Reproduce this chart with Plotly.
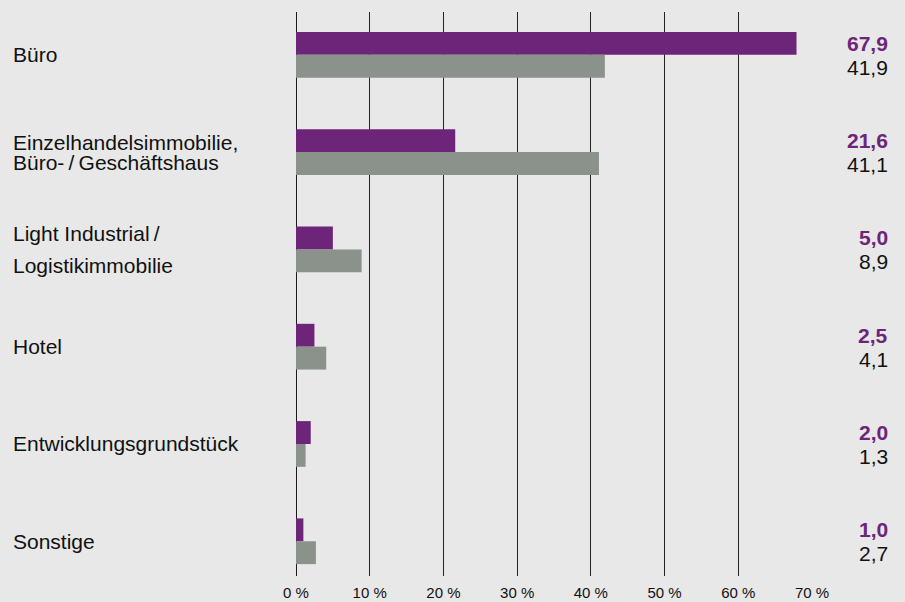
import plotly.graph_objects as go

# ---- data ----
categories = ["Büro", "Einzelhandelsimmobilie", "Light Industrial", "Hotel",
              "Entwicklungsgrundstück", "Sonstige"]
label_lines = [
    ["Büro"],
    ["Einzelhandelsimmobilie,", "Büro-\u2009/\u2009Geschäftshaus"],
    ["Light Industrial\u2009/", "Logistikimmobilie"],
    ["Hotel"],
    ["Entwicklungsgrundstück"],
    ["Sonstige"],
]
values_purple = [67.9, 21.6, 5.0, 2.5, 2.0, 1.0]
values_grey = [41.9, 41.1, 8.9, 4.1, 1.3, 2.7]
tick_values = [0, 10, 20, 30, 40, 50, 60, 70]
tick_labels = ["0 %", "10 %", "20 %", "30 %", "40 %", "50 %", "60 %", "70 %"]

PURPLE = "#6c2579"
GREY = "#8b918b"
BG = "#e7e8e7"
FONT = "Liberation Sans, Arial, sans-serif"

fig = go.Figure()
fig.add_trace(go.Bar(y=categories, x=values_purple, orientation="h",
                     marker=dict(color=PURPLE, line=dict(width=0)),
                     name="Serie 1", hoverinfo="skip"))
fig.add_trace(go.Bar(y=categories, x=values_grey, orientation="h",
                     marker=dict(color=GREY, line=dict(width=0)),
                     name="Serie 2", hoverinfo="skip"))

def fmt(v):
    return f"{v:.1f}".replace(".", ",")

annotations = []
for i, (cat, lines) in enumerate(zip(categories, label_lines)):
    if len(lines) == 1:
        shifts = [0]
    elif cat == "Light Industrial":
        shifts = [16, -16]
    else:
        shifts = [9.5, -10.5]
    for line, ys in zip(lines, shifts):
        annotations.append(dict(
            x=0, xref="paper", y=cat, yref="y", xanchor="left", yanchor="middle",
            xshift=-285, yshift=ys, text=line, showarrow=False,
            font=dict(family=FONT, size=21, color="#111111")))
    annotations.append(dict(
        x=1, xref="paper", y=cat, yref="y", xanchor="right", yanchor="middle",
        xshift=78, yshift=11.5, text="<b>" + fmt(values_purple[i]) + "</b>",
        showarrow=False, font=dict(family=FONT, size=21, color=PURPLE)))
    annotations.append(dict(
        x=1, xref="paper", y=cat, yref="y", xanchor="right", yanchor="middle",
        xshift=78, yshift=-12.5, text=fmt(values_grey[i]),
        showarrow=False, font=dict(family=FONT, size=21, color="#111111")))

fig.update_layout(
    width=905, height=602,
    margin=dict(l=296, r=93, t=12, b=26, autoexpand=False),
    paper_bgcolor=BG, plot_bgcolor=BG,
    barmode="group", bargap=0.53, bargroupgap=0,
    showlegend=False,
    font=dict(family=FONT, color="#111111"),
    annotations=annotations,
    xaxis=dict(range=[0, 70], tickvals=tick_values, ticktext=tick_labels,
               showgrid=True, gridcolor="#222222", gridwidth=1,
               zeroline=True, zerolinecolor="#1a1a1a", zerolinewidth=1,
               showline=False, ticks="", ticklabelstandoff=6, automargin=False,
               tickfont=dict(family=FONT, size=15, color="#111111"),
               fixedrange=True),
    yaxis=dict(categoryorder="array", categoryarray=categories,
               range=[5.357, -0.44], showticklabels=False, showgrid=False,
               zeroline=False, showline=False, ticks="", fixedrange=True,
               automargin=False),
)

fig.write_html("out.html", config={"displayModeBar": False},
               post_script="document.body.style.margin='0';document.body.style.overflow='hidden';")
